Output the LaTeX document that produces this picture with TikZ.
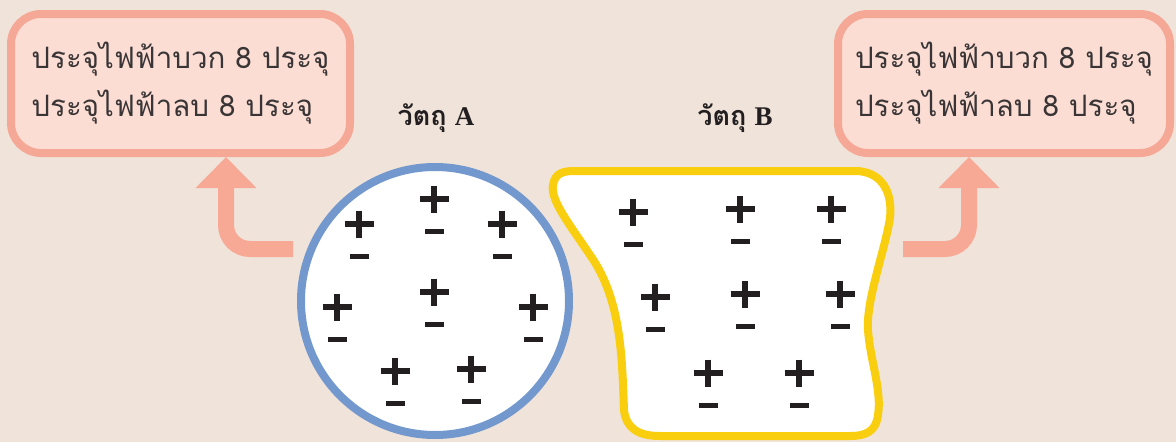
\documentclass[tikz,border=0pt]{standalone}
\usepackage{fontspec}
\newfontfamily\thai[Script=Thai]{Loma}
\newfontfamily\serifA{Liberation Serif}
\usetikzlibrary{arrows.meta}
\definecolor{bg}{HTML}{F0E3DA}
\definecolor{boxline}{HTML}{F6A896}
\definecolor{boxfill}{HTML}{FCDDD3}
\definecolor{arrowcol}{HTML}{F7A995}
\definecolor{blueline}{HTML}{7398CD}
\definecolor{yellowline}{HTML}{F9CE0E}
\definecolor{ink}{HTML}{231F20}
\tikzset{
  infobox/.style={draw=boxline, fill=boxfill, line width=8pt, rounded corners=30pt,
    minimum width=339pt, minimum height=139pt, inner sep=0pt, align=left,
    text=ink!90, font=\thai\fontsize{29.5}{48}\selectfont},
  bigarrow/.style={draw=arrowcol, line width=16pt, rounded corners=24pt,
    -{Triangle[width=59pt,length=31pt]}},
  objlabel/.style={text=ink, font=\fontsize{27}{30}\selectfont},
  charge/.pic={
    \draw[ink, line width=6pt] (-14.5,0)--(14.5,0) (0,-13.5)--(0,13.5);
    \fill[ink] (-9.5,29.5) rectangle (9.5,34.5);
  }
}
\begin{document}
\begin{tikzpicture}[x=1pt,y=-1pt]
\useasboundingbox (0,0) rectangle (1176,442);
\fill[bg] (0,0) rectangle (1176,442);

% info boxes
\node[infobox] (L) at (180.5,83.5) {ประจุไฟฟ้าบวก 8 ประจุ\\ประจุไฟฟ้าลบ 8 ประจุ};
\node[infobox, minimum width=332pt] (R) at (1004,83.5) {ประจุไฟฟ้าบวก 8 ประจุ\\ประจุไฟฟ้าลบ 8 ประจุ};

% object labels
\node[objlabel] (labA) at (436,118) {{\thai\bfseries วัตถุ} {\serifA\bfseries A}};
\node[objlabel] (labB) at (735,118) {{\thai\bfseries วัตถุ} {\serifA\bfseries B}};

% object A
\node[circle, draw=blueline, fill=white, line width=8pt, minimum size=268pt, inner sep=0pt] (A) at (435,301) {};

% object B
\draw[yellowline, fill=white, line width=8pt]
  (575,171) -- (855,171)
  .. controls (880,171) and (893,190) .. (890,218)
  .. controls (885,250) and (866,300) .. (868,330)
  .. controls (870,360) and (882,390) .. (878,415)
  .. controls (876,432) and (865,436) .. (850,436)
  -- (660,436)
  .. controls (638,436) and (626,428) .. (624,410)
  .. controls (622,360) and (622,300) .. (590,255)
  .. controls (570,225) and (550,200) .. (553,185)
  .. controls (555,172) and (565,171) .. (575,171) -- cycle;
\node[inner sep=0pt, minimum size=0pt] (B) at (745,300) {};

% arrows
\coordinate (lstart) at (293,249);
\coordinate (ltip) at (226,0);
\coordinate (rstart) at (903,249);
\coordinate (rtip) at (969,0);
\draw[bigarrow] (lstart) -| (L.south -| ltip);
\draw[bigarrow] (rstart) -| (R.south -| rtip);

% charges in A
\foreach \p in {(359,224),(434,199),(502,224),(337,307),(434,292),(533,307),(395,371),(471,369)}
  \pic at \p {charge};
% charges in B
\foreach \p in {(633,212),(740,209),(831,209),(655,297),(745,294),(840,294),(708,373),(799,373)}
  \pic at \p {charge};
\end{tikzpicture}
\end{document}
